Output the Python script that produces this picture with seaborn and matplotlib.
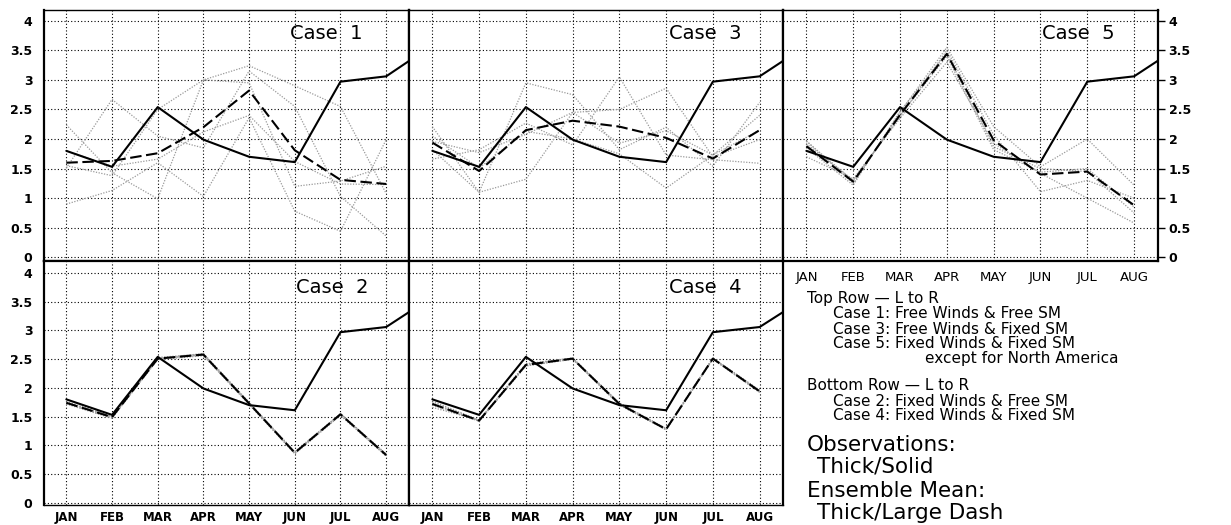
import matplotlib
matplotlib.use("Agg")
import matplotlib.pyplot as plt
import seaborn as sns

sns.set_style("white")
plt.rcParams['font.family'] = ['DejaVu Sans']
plt.rcParams.update({'text.color': 'black', 'xtick.color': 'black',
                     'ytick.color': 'black', 'axes.edgecolor': 'black'})

# months on the x axis (obs also has a SEP value, clipped at the frame)
MONTHS = ["JAN", "FEB", "MAR", "APR", "MAY", "JUN", "JUL", "AUG"]
Y_TICKS = [0, 0.5, 1, 1.5, 2, 2.5, 3, 3.5, 4]
Y_LABELS = ["0", "0.5", "1", "1.5", "2", "2.5", "3", "3.5", "4"]

OBS = [1.80, 1.53, 2.54, 1.99, 1.70, 1.61, 2.97, 3.06, 3.58]

CASE1_MEAN = [1.60, 1.63, 1.76, 2.20, 2.82, 1.81, 1.31, 1.24]
CASE1_MEMBERS = [
    [2.24, 1.43, 0.99, 3.00, 3.24, 2.90, 2.55, 1.08],
    [1.51, 2.67, 2.05, 1.85, 3.15, 2.55, 1.03, 0.36],
    [0.90, 1.13, 1.60, 1.03, 2.36, 0.78, 0.44, 1.99],
    [1.55, 1.38, 2.50, 3.00, 2.95, 1.20, 1.29, 1.54],
    [1.80, 1.54, 1.66, 2.12, 2.40, 1.62, 1.24, 1.23],
]

CASE3_MEAN = [1.94, 1.46, 2.15, 2.31, 2.21, 2.02, 1.67, 2.15]
CASE3_MEMBERS = [
    [2.21, 1.10, 2.95, 2.75, 1.82, 2.20, 1.54, 2.62],
    [1.66, 1.82, 2.27, 1.90, 3.05, 1.73, 1.65, 1.59],
    [1.82, 1.10, 1.32, 2.45, 2.50, 2.86, 1.70, 1.99],
    [2.05, 1.51, 2.13, 2.00, 1.75, 1.17, 1.73, 2.40],
    [1.96, 1.77, 2.08, 2.45, 1.93, 2.14, 1.73, 2.15],
]

CASE5_MEAN = [1.88, 1.28, 2.41, 3.44, 1.98, 1.40, 1.45, 0.88]
CASE5_MEMBERS = [
    [1.97, 1.25, 2.45, 3.55, 2.21, 1.53, 2.00, 1.22],
    [1.92, 1.30, 2.38, 3.50, 2.07, 1.11, 1.30, 1.00],
    [1.70, 1.33, 2.35, 3.30, 1.93, 1.42, 1.00, 0.58],
    [1.85, 1.22, 2.47, 3.45, 1.87, 1.50, 1.45, 0.75],
    [1.96, 1.30, 2.40, 3.40, 1.82, 1.44, 1.50, 0.85],
]

CASE2_MEAN = [1.74, 1.49, 2.51, 2.58, 1.73, 0.87, 1.54, 0.83]
CASE2_MEMBERS = [
    [1.76, 1.50, 2.53, 2.59, 1.74, 0.89, 1.55, 0.85],
    [1.72, 1.47, 2.49, 2.56, 1.71, 0.85, 1.52, 0.81],
    [1.75, 1.50, 2.50, 2.58, 1.73, 0.86, 1.55, 0.82],
    [1.73, 1.48, 2.52, 2.57, 1.72, 0.88, 1.53, 0.84],
    [1.74, 1.50, 2.51, 2.60, 1.75, 0.87, 1.55, 0.83],
]

CASE4_MEAN = [1.72, 1.43, 2.40, 2.51, 1.72, 1.28, 2.51, 1.94]
CASE4_MEMBERS = [
    [1.70, 1.42, 2.41, 2.52, 1.73, 1.29, 2.52, 1.95],
    [1.66, 1.44, 2.39, 2.50, 1.71, 1.27, 2.50, 1.93],
    [1.74, 1.43, 2.40, 2.51, 1.72, 1.28, 2.51, 1.94],
    [1.73, 1.42, 2.38, 2.50, 1.70, 1.27, 2.50, 1.92],
    [1.77, 1.44, 2.42, 2.52, 1.74, 1.29, 2.52, 1.96],
]

LEGEND_SMALL = [
    ("Top Row \u2014 L to R", 807, 299),
    ("Case 1: Free Winds & Free SM", 833, 314),
    ("Case 3: Free Winds & Fixed SM", 833, 329),
    ("Case 5: Fixed Winds & Fixed SM", 833, 344),
    ("except for North America", 925, 358),
    ("Bottom Row \u2014 L to R", 807, 386),
    ("Case 2: Fixed Winds & Free SM", 833, 401),
    ("Case 4: Fixed Winds & Fixed SM", 833, 416),
]
LEGEND_BIG = [
    ("Observations:", 807, 445),
    ("Thick/Solid", 817, 466),
    ("Ensemble Mean:", 807, 491),
    ("Thick/Large Dash", 817, 513),
]

W, H = 1231, 525
fig = plt.figure(figsize=(W / 100, H / 100), dpi=100)


def add_ax(left, right, top, bottom):
    return fig.add_axes([left / W, 1 - bottom / H, (right - left) / W, (bottom - top) / H])


def draw_panel(ax, members, mean, label, ylim, lab_x, lab_y):
    x = list(range(len(MONTHS)))
    for m in members:
        sns.lineplot(x=x, y=m, ax=ax, color='#9a9a9a', linewidth=0.9,
                     linestyle=(0, (1, 1.2)), zorder=2)
    sns.lineplot(x=x, y=mean, ax=ax, color='black', linewidth=1.5,
                 linestyle=(0, (5.5, 2.2)), zorder=3)
    sns.lineplot(x=list(range(len(OBS))), y=OBS, ax=ax, color='black',
                 linewidth=1.5, zorder=4)
    ax.set_xlim(-0.5, 7.5)
    ax.set_ylim(*ylim)
    ax.set_xticks(x)
    ax.set_xticklabels(MONTHS, fontsize=8.5, fontweight='bold')
    ax.set_yticks(Y_TICKS)
    ax.set_yticklabels(Y_LABELS, fontsize=9, fontweight='bold')
    ax.set_xlabel('')
    ax.set_ylabel('')
    ax.set_axisbelow(True)
    ax.grid(True, color='black', linestyle=(0, (1, 2)), linewidth=0.8)
    ax.tick_params(axis='y', direction='out', length=6, width=1, pad=2,
                   labelleft=False)
    ax.tick_params(axis='x', direction='out', length=3, width=1, pad=1,
                   labelbottom=False)
    for side in ['left', 'right', 'bottom']:
        ax.spines[side].set_linewidth(1.6)
    ax.spines['top'].set_linewidth(1.0)
    ax.text(lab_x, lab_y, label, transform=ax.transAxes, ha='right',
            va='center', fontsize=14)


TOP_YLIM = (-0.062, 4.19)
BOT_YLIM = (-0.04, 4.21)

ax1 = add_ax(43.5, 409, 9.5, 261)
draw_panel(ax1, CASE1_MEMBERS, CASE1_MEAN, "Case  1", TOP_YLIM, 0.874, 0.903)
ax1.tick_params(axis='y', labelleft=True)
ax1.tick_params(axis='x', length=0)

ax3 = add_ax(409, 783, 9.5, 261)
draw_panel(ax3, CASE3_MEMBERS, CASE3_MEAN, "Case  3", TOP_YLIM, 0.889, 0.903)
ax3.tick_params(axis='x', length=0)

ax5 = add_ax(783, 1157.5, 9.5, 261)
draw_panel(ax5, CASE5_MEMBERS, CASE5_MEAN, "Case  5", TOP_YLIM, 0.886, 0.903)
ax5.tick_params(axis='y', right=True, labelright=True, length=5, pad=3)
ax5.tick_params(axis='x', labelbottom=True, pad=4)
for lbl in ax5.get_xticklabels():
    lbl.set_fontweight('normal')
    lbl.set_fontsize(9.5)

ax2 = add_ax(43.5, 409, 261, 505)
draw_panel(ax2, CASE2_MEMBERS, CASE2_MEAN, "Case  2", BOT_YLIM, 0.888, 0.892)
ax2.tick_params(axis='y', labelleft=True)
ax2.tick_params(axis='x', labelbottom=True)
ax2.spines['bottom'].set_linewidth(1.0)
ax2.spines['top'].set_linewidth(1.6)

ax4 = add_ax(409, 783, 261, 505)
draw_panel(ax4, CASE4_MEMBERS, CASE4_MEAN, "Case  4", BOT_YLIM, 0.889, 0.892)
ax4.tick_params(axis='x', labelbottom=True)
ax4.spines['bottom'].set_linewidth(1.0)
ax4.spines['top'].set_linewidth(1.6)

for txt, x, y in LEGEND_SMALL:
    fig.text(x / W, 1 - y / H, txt, fontsize=11, va='center', ha='left')
for txt, x, y in LEGEND_BIG:
    fig.text(x / W, 1 - y / H, txt, fontsize=15.5, va='center', ha='left')

fig.savefig('out.png', dpi=100)
plt.close(fig)
